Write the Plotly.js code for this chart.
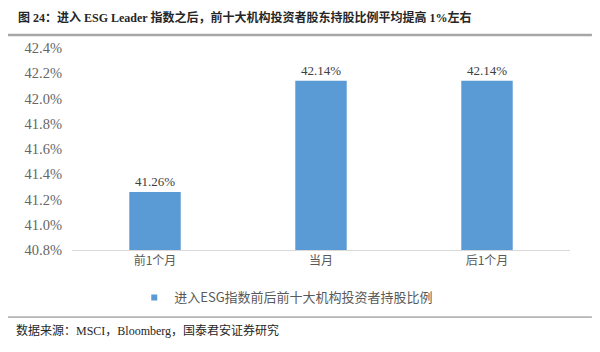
<!DOCTYPE html>
<html><head><meta charset="utf-8">
<script src="https://cdn.plot.ly/plotly-3.0.1.min.js"></script>
<style>body{margin:0;background:#fff}#c{width:600px;height:352px}</style>
</head><body><div id="c"></div>
<script>
const categories = ['前1个月', '当月', '后1个月'];
const values = [41.26, 42.14, 42.14];
const labels = ['41.26%', '42.14%', '42.14%'];
const seriesName = '进入ESG指数前后前十大机构投资者持股比例';
const titleText = '图 24：进入 ESG Leader 指数之后，前十大机构投资者股东持股比例平均提高 1%左右';
const sourceText = '数据来源：MSCI，Bloomberg，国泰君安证券研究';

const serif = '"Liberation Serif", "Noto Sans CJK SC", serif';
const cjk = '"Noto Sans CJK SC", sans-serif';
const barColor = '#5B9BD5';

Plotly.newPlot('c', [{
  type: 'bar', x: categories, y: values, name: seriesName, showlegend: false,
  marker: {color: barColor}, width: 0.31,
  text: labels, textposition: 'outside', cliponaxis: false,
  textfont: {family: serif, size: 13, color: '#404040'}
}, {
  type: 'scatter', mode: 'markers', x: [null], y: [null], name: seriesName,
  marker: {symbol: 'square', size: 6, color: barColor}, showlegend: true
}], {
  width: 600, height: 352,
  margin: {l: 72, r: 30, t: 48, b: 102},
  paper_bgcolor: '#fff', plot_bgcolor: '#fff',
  showlegend: true,
  legend: {orientation: 'h', x: 0.125, xanchor: 'left', y: -0.235, yanchor: 'middle',
    font: {family: cjk, size: 13, color: '#595959'}, itemwidth: 30},
  xaxis: {showline: true, linecolor: '#d9d9d9', linewidth: 1, ticks: '',
    tickfont: {family: cjk, size: 12, color: '#595959'}},
  yaxis: {range: [40.8, 42.4], dtick: 0.2, tick0: 40.8, tickformat: '.1f', ticksuffix: '%',
    showgrid: false, zeroline: false, showline: false, ticks: '', ticklabelstandoff: 9,
    tickfont: {family: serif, size: 14.5, color: '#666666'}},
  shapes: [
    {type: 'line', xref: 'paper', yref: 'paper', x0: -0.1285, x1: 1.044, y0: 1.064, y1: 1.064,
     line: {color: '#a6a6a6', width: 2.5}},
    {type: 'line', xref: 'paper', yref: 'paper', x0: -0.1285, x1: 1.044, y0: -0.332, y1: -0.332,
     line: {color: '#7f7f7f', width: 1}}
  ],
  annotations: [
    {xref: 'paper', yref: 'paper', x: -0.112, y: 1.153, xanchor: 'left', yanchor: 'middle',
     text: '<b>' + titleText + '</b>', showarrow: false,
     font: {family: serif, size: 12, color: '#262626'}},
    {xref: 'paper', yref: 'paper', x: -0.116, y: -0.398, xanchor: 'left', yanchor: 'middle',
     text: sourceText, showarrow: false,
     font: {family: serif, size: 12, color: '#262626'}}
  ]
}, {displayModeBar: false, staticPlot: true});
</script></body></html>
